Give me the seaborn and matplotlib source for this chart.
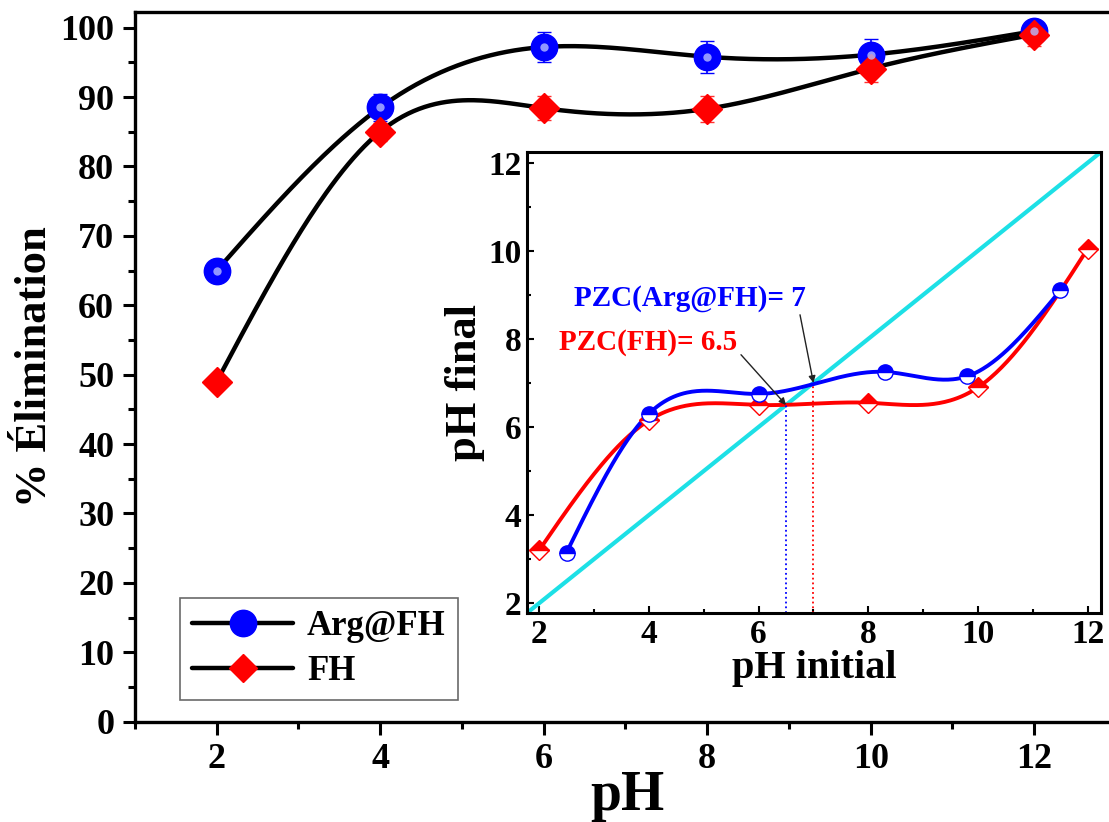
import numpy as np
import seaborn as sns
import matplotlib.pyplot as plt
from matplotlib.lines import Line2D
from matplotlib.ticker import MultipleLocator

# main plot: removal vs pH
ph = [2, 4, 6, 8, 10, 12]
elim_arg = [65.0, 88.5, 97.2, 95.8, 96.1, 99.5]
err_arg = [0.0, 2.0, 2.2, 2.3, 2.2, 1.2]
elim_fh = [49.0, 85.0, 88.4, 88.3, 94.1, 99.0]
err_fh = [0.0, 1.3, 1.7, 1.9, 2.0, 1.6]

# inset: pH drift (PZC)
pzc_x_arg = [2.5, 4.0, 6.0, 8.3, 9.8, 11.5]
pzc_y_arg = [3.15, 6.3, 6.75, 7.25, 7.15, 9.1]
pzc_x_fh = [2.0, 4.0, 6.0, 8.0, 10.0, 12.0]
pzc_y_fh = [3.2, 6.15, 6.5, 6.55, 6.9, 10.05]
pzc_arg = 7.0
pzc_fh = 6.5


def smooth(x, y, n=300):
    # natural cubic spline through the points (line rendering only)
    x = np.asarray(x, float)
    y = np.asarray(y, float)
    h = np.diff(x)
    m = len(x)
    A = np.zeros((m, m))
    b = np.zeros(m)
    A[0, 0] = A[-1, -1] = 1
    for i in range(1, m - 1):
        A[i, i - 1] = h[i - 1]
        A[i, i] = 2 * (h[i - 1] + h[i])
        A[i, i + 1] = h[i]
        b[i] = 6 * ((y[i + 1] - y[i]) / h[i] - (y[i] - y[i - 1]) / h[i - 1])
    M = np.linalg.solve(A, b)
    xs = np.linspace(x[0], x[-1], n)
    k = np.clip(np.searchsorted(x, xs) - 1, 0, m - 2)
    t0 = x[k + 1] - xs
    t1 = xs - x[k]
    hk = h[k]
    ys = (M[k] * t0**3 / (6 * hk) + M[k + 1] * t1**3 / (6 * hk)
          + (y[k] / hk - M[k] * hk / 6) * t0 + (y[k + 1] / hk - M[k + 1] * hk / 6) * t1)
    return xs, ys


sns.set_theme(style="ticks")
plt.rcParams['font.family'] = ['Liberation Serif', 'DejaVu Serif']
plt.rcParams['font.weight'] = 'bold'
plt.rcParams['axes.labelweight'] = 'bold'
for key in ['text.color', 'axes.labelcolor', 'xtick.color', 'ytick.color', 'axes.edgecolor']:
    plt.rcParams[key] = 'black'

fig = plt.figure(figsize=(11.09, 8.22), dpi=100)
ax = fig.add_axes([0.1217, 0.122, 0.8883, 0.863])

for xv, yv in [(ph, elim_arg), (ph, elim_fh)]:
    xs, ys = smooth(xv, yv)
    ax.plot(xs, ys, color='black', lw=3.2, zorder=2)

ax.errorbar(ph, elim_arg, yerr=err_arg, fmt='none', ecolor='blue', elinewidth=1.2, capsize=5, zorder=3)
ax.errorbar(ph, elim_fh, yerr=err_fh, fmt='none', ecolor='#ff3030', elinewidth=1.2, capsize=5, zorder=3)
ax.plot(ph, elim_arg, 'o', color='blue', ms=19, mec='blue', zorder=4)
ax.plot(ph, elim_arg, 'o', color='#b5bbff', ms=6, mec='none', alpha=0.8, zorder=5)
ax.plot(ph, elim_fh, 'D', color='red', ms=15, mec='red', zorder=4)

ax.set_xlim(1.0, 13.05)
ax.set_ylim(0, 102.2)
ax.spines['right'].set_visible(False)
ax.xaxis.set_major_locator(MultipleLocator(2))
ax.xaxis.set_minor_locator(MultipleLocator(1))
ax.yaxis.set_major_locator(MultipleLocator(10))
ax.yaxis.set_minor_locator(MultipleLocator(5))
ax.tick_params(which='major', direction='out', length=9, width=2.2, labelsize=26, pad=6)
ax.tick_params(which='minor', direction='out', length=5, width=2.2)
for s in ax.spines.values():
    s.set_linewidth(2.4)
ax.set_xlabel('pH', fontsize=40, labelpad=-4)
ax.set_ylabel('% Élimination', fontsize=32, labelpad=4)
for lab in ax.get_xticklabels() + ax.get_yticklabels():
    lab.set_fontweight('bold')

handles = [Line2D([], [], color='black', lw=3.2, marker='o', ms=19, mfc='blue', mec='blue'),
           Line2D([], [], color='black', lw=3.2, marker='D', ms=14, mfc='red', mec='red')]
leg = ax.legend(handles, ['Arg@FH', 'FH'], loc='lower left', bbox_to_anchor=(0.046, 0.03),
                borderaxespad=0, fancybox=False, frameon=True, handlelength=2.9,
                prop={'size': 25, 'weight': 'bold'}, labelspacing=0.35, borderpad=0.35,
                handletextpad=0.4)
leg.get_frame().set_edgecolor('#444444')
leg.get_frame().set_linewidth(1.2)

# inset
ins = fig.add_axes([0.4752, 0.2543, 0.5176, 0.5608])
ins.plot([1.78, 12.24], [1.78, 12.24], color='#1de0e6', lw=3, zorder=1)
xs, ys = smooth(pzc_x_fh, pzc_y_fh)
ins.plot(xs, ys, color='red', lw=2.8, zorder=2)
xs, ys = smooth(pzc_x_arg, pzc_y_arg)
ins.plot(xs, ys, color='blue', lw=2.8, zorder=3)
ins.plot(pzc_x_fh, pzc_y_fh, 'D', ms=10, color='red', mfc='red', mfcalt='white',
         fillstyle='top', mec='red', mew=1, zorder=4)
ins.plot(pzc_x_arg, pzc_y_arg, 'o', ms=11, color='blue', mfc='blue', mfcalt='white',
         fillstyle='top', mec='blue', mew=1, zorder=5)
ins.plot([pzc_fh, pzc_fh], [1.78, pzc_fh], ls=':', color='blue', lw=1.3, zorder=2)
ins.plot([pzc_arg, pzc_arg], [1.78, pzc_arg], ls=':', color='red', lw=1.3, zorder=2)
ins.annotate('PZC(Arg@FH)= 7', xy=(pzc_arg, pzc_arg), xytext=(6.87, 8.62),
             color='blue', fontsize=21, fontweight='bold', ha='right', va='bottom',
             arrowprops=dict(arrowstyle='-|>', color='#222222', lw=1, shrinkA=0, shrinkB=0,
                             mutation_scale=10, relpos=(0.97, 0.0)))
ins.annotate('PZC(FH)= 6.5', xy=(pzc_fh, pzc_fh), xytext=(5.62, 7.6),
             color='red', fontsize=21, fontweight='bold', ha='right', va='bottom',
             arrowprops=dict(arrowstyle='-|>', color='#222222', lw=1, shrinkA=0, shrinkB=0,
                             mutation_scale=10, relpos=(1.0, 0.2)))
ins.set_xlim(1.78, 12.24)
ins.set_ylim(1.78, 12.24)
ins.xaxis.set_major_locator(MultipleLocator(2))
ins.xaxis.set_minor_locator(MultipleLocator(1))
ins.yaxis.set_major_locator(MultipleLocator(2))
ins.yaxis.set_minor_locator(MultipleLocator(1))
ins.tick_params(which='major', direction='in', length=5, width=1.5, labelsize=24, pad=4)
ins.tick_params(which='minor', direction='in', length=3, width=1.5)
for s in ins.spines.values():
    s.set_linewidth(2.2)
ins.set_xlabel('pH initial', fontsize=29, labelpad=0)
ins.set_ylabel('pH final', fontsize=32, labelpad=2)
for lab in ins.get_xticklabels() + ins.get_yticklabels():
    lab.set_fontweight('bold')

fig.savefig('out.png', dpi=100)
